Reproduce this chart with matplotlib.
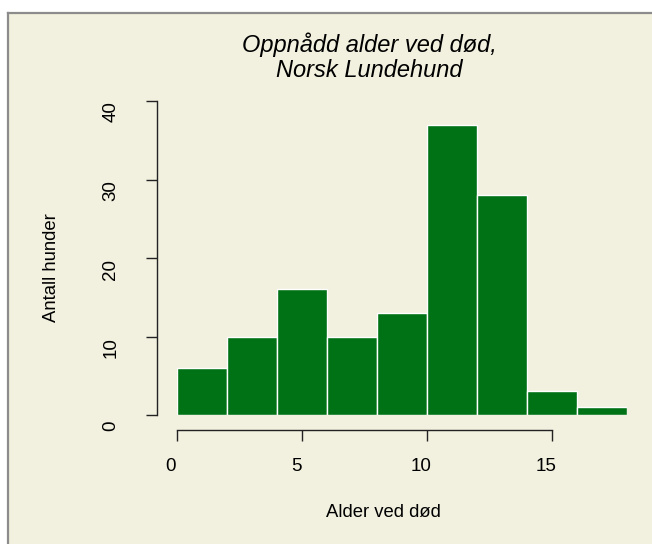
import numpy as np
import matplotlib
matplotlib.use("Agg")
import matplotlib.pyplot as plt
from matplotlib.patches import Rectangle
from matplotlib.lines import Line2D
from matplotlib.transforms import ScaledTranslation

# histogram bins (age at death, 2-year bins) and counts
bin_edges = [0, 2, 4, 6, 8, 10, 12, 14, 16, 18]
counts = [6, 10, 16, 10, 13, 37, 28, 3, 1]
x_ticks = [0, 5, 10, 15]
y_ticks = [0, 10, 20, 30, 40]

title = "Oppnådd alder ved død,\nNorsk Lundehund"
xlabel = "Alder ved død"
ylabel = "Antall hunder"

bg = "#f2f0de"
bar_color = "#007216"

plt.rcParams['font.family'] = ['Liberation Sans', 'DejaVu Sans']

W, H = 652, 544
dpi = 100
fig = plt.figure(figsize=(W / dpi, H / dpi), dpi=dpi, facecolor="white")

# beige panel with grey frame on top/left
fig.patches.append(Rectangle((8 / W, 0), 1 - 8 / W, 1 - 13 / H, transform=fig.transFigure,
                             facecolor=bg, edgecolor="none", zorder=-10))
fig.lines.append(Line2D([8 / W, 8 / W], [0, 1 - 13 / H], transform=fig.transFigure,
                        color="#8c8c8c", lw=1.6, zorder=-5))
fig.lines.append(Line2D([8 / W, 1], [1 - 13 / H, 1 - 13 / H], transform=fig.transFigure,
                        color="#8c8c8c", lw=1.6, zorder=-5))

# axes area: x 0..18 -> px 177..627, y 0..40 -> px 415..101
left, right = 177 / W, 627 / W
bottom, top = (H - 415) / H, (H - 101) / H
ax = fig.add_axes([left, bottom, right - left, top - bottom])
ax.set_facecolor("none")

widths = np.diff(bin_edges)
ax.bar(bin_edges[:-1], counts, width=widths, align="edge", color=bar_color,
       edgecolor="white", linewidth=1.0)
ax.set_xlim(0, 18)
ax.set_ylim(0, 40)

for s in ["top", "right"]:
    ax.spines[s].set_visible(False)
ax.spines["left"].set_position(("outward", 14.4))
ax.spines["bottom"].set_position(("outward", 10.8))
ax.spines["left"].set_bounds(0, 40)
ax.spines["bottom"].set_bounds(0, 15)
for s in ["left", "bottom"]:
    ax.spines[s].set_color("#222222")
    ax.spines[s].set_linewidth(1.0)

ax.set_xticks(x_ticks)
ax.set_yticks(y_ticks)
ax.tick_params(axis="x", length=8, width=1.0, color="#222222", pad=12, labelsize=13.5)
ax.tick_params(axis="y", length=8, width=1.0, color="#222222", pad=19, labelsize=13.5)
for lab in ax.get_yticklabels():
    lab.set_rotation(90)
    lab.set_va("center")
    lab.set_transform(lab.get_transform() + ScaledTranslation(0, -11 / dpi, fig.dpi_scale_trans))
for lab in ax.get_xticklabels():
    lab.set_transform(lab.get_transform() + ScaledTranslation(-6 / dpi, 0, fig.dpi_scale_trans))

ax.set_xlabel(xlabel, fontsize=13.3)
ax.xaxis.set_label_coords((383 - 177) / 450, (H - 504 - (H - 415)) / 314)
ax.set_ylabel(ylabel, fontsize=13.3)
ax.yaxis.set_label_coords((60 - 177) / 450, (H - 268 - (H - 415)) / 314)

fig.text(369 / W, 1 - 57 / H, title, ha="center", va="center", fontsize=17,
         style="italic", linespacing=1.1)

fig.savefig("out.png", dpi=dpi, facecolor="white")
